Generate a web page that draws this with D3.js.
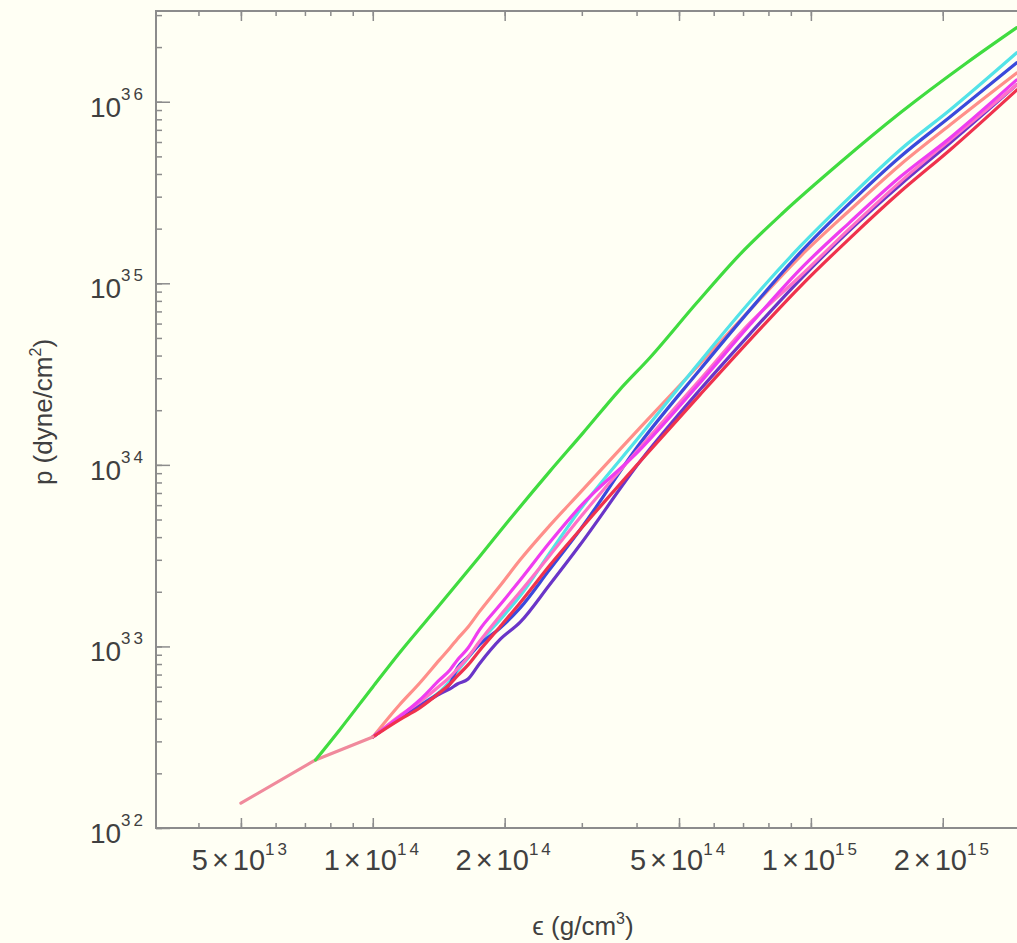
<!DOCTYPE html>
<html>
<head>
<meta charset="utf-8">
<script src="https://cdn.jsdelivr.net/npm/d3@7"></script>
<style>
  html, body { margin: 0; padding: 0; background: #fffff4; }
  svg { display: block; }
  text { font-family: "Liberation Sans", Arial, sans-serif; fill: #404040; }
</style>
</head>
<body>
<svg id="chart"></svg>
<script>
// low density part shared by every curve
const baseEps = [5.0e13, 7.4e13, 1.0e14];
const basePress = [1.37e32, 2.37e32, 3.17e32];

// green curve leaves the shared part early
const greenEps = [7.4e13, 8.4e13, 1.0e14, 1.15e14, 1.42e14, 1.75e14, 2.05e14, 2.53e14, 3.02e14, 3.66e14,
  4.29e14, 5.49e14, 6.88e14, 8.63e14, 1.165e15, 1.6e15, 2.27e15, 2.95e15];
const greenPress = [2.37e32, 3.47e32, 5.98e32, 9.2e32, 1.69e33, 3.11e33, 4.98e33, 9.15e33, 1.50e34, 2.59e34,
  3.89e34, 7.81e34, 1.44e35, 2.44e35, 4.61e35, 8.69e35, 1.64e36, 2.56e36];

// the bundle, all on one density grid
const epsGrid = [1.0e14, 1.15e14, 1.28e14, 1.42e14, 1.5e14, 1.56e14, 1.65e14, 1.75e14, 1.95e14, 2.17e14,
  2.53e14, 2.97e14, 4.07e14, 5.58e14, 7.26e14, 9.44e14, 1.23e15, 1.6e15, 2.08e15, 2.95e15];
const salmonPress = [3.17e32, 4.76e32, 6.29e32, 8.43e32, 9.8e32, 1.10e33, 1.28e33, 1.55e33, 2.15e33, 3.0e33,
  4.61e33, 7.01e33, 1.60e34, 3.6e34, 7.14e34, 1.40e35, 2.54e35, 4.50e35, 7.47e35, 1.44e36];
const cyanPress = [3.17e32, 4.04e32, 4.76e32, 5.61e32, 6.45e32, 7.33e32, 8.64e32, 1.045e33, 1.40e33, 1.90e33,
  3.25e33, 5.65e33, 1.44e34, 3.70e34, 7.91e34, 1.59e35, 3.0e35, 5.44e35, 9.03e35, 1.86e36];
const bluePress = [3.17e32, 4.04e32, 4.70e32, 5.55e32, 6.21e32, 7.62e32, 8.75e32, 1.02e33, 1.26e33, 1.63e33,
  2.64e33, 4.38e33, 1.31e34, 3.34e34, 7.14e34, 1.47e35, 2.78e35, 4.98e35, 8.26e35, 1.64e36];
const purplePress = [3.17e32, 4.04e32, 4.70e32, 5.47e32, 5.83e32, 6.21e32, 6.62e32, 8.01e32, 1.09e33, 1.36e33,
  2.18e33, 3.62e33, 1.04e34, 2.59e34, 5.27e34, 1.045e35, 1.97e35, 3.49e35, 5.94e35, 1.24e36];
const pinkPress = [3.17e32, 4.14e32, 4.94e32, 6.05e32, 6.79e32, 7.52e32, 8.75e32, 1.06e33, 1.47e33, 2.0e33,
  3.15e33, 5.11e33, 1.24e34, 2.94e34, 6.05e34, 1.09e35, 2.02e35, 3.62e35, 6.18e35, 1.24e36];
const magentaPress = [3.17e32, 4.09e32, 5.07e32, 6.54e32, 7.42e32, 8.43e32, 9.8e32, 1.23e33, 1.69e33, 2.32e33,
  3.72e33, 5.87e33, 1.21e34, 2.83e34, 5.91e34, 1.19e35, 2.18e35, 3.86e35, 6.34e35, 1.32e36];
const redPress = [3.17e32, 3.94e32, 4.58e32, 5.55e32, 6.21e32, 6.88e32, 7.91e32, 9.45e32, 1.28e33, 1.74e33,
  2.78e33, 4.38e33, 1.04e34, 2.43e34, 4.88e34, 9.57e34, 1.78e35, 3.19e35, 5.44e35, 1.16e36];

// ticks
const xTicks = [5e13, 1e14, 2e14, 5e14, 1e15, 2e15];
const yTicks = [1e32, 1e33, 1e34, 1e35, 1e36];

const width = 1017;
const height = 943;
// the frame runs a little past the right edge of the picture
const plot = { left: 156, right: 1031, top: 11, bottom: 828 };

const svg = d3.select('#chart')
  .attr('width', width)
  .attr('height', height);

svg.append('rect')
  .attr('width', width)
  .attr('height', height)
  .attr('fill', '#fffff4');

const x = d3.scaleLog()
  .domain([3.2e13, 3.18e15])
  .range([plot.left, plot.right]);

const y = d3.scaleLog()
  .domain([1e32, 3.16e36])
  .range([plot.bottom, plot.top]);

// soft edges like the original
const defs = svg.append('defs');
defs.append('filter').attr('id', 'soft')
  .append('feGaussianBlur').attr('stdDeviation', 0.6);

// inward ticks: minor then major, on all four sides
const minorX = x.ticks();
const minorY = y.ticks();
function tickAxis(axis, transform, size, values) {
  const g = svg.append('g')
    .attr('transform', transform)
    .call(axis.tickValues(values).tickSize(size).tickFormat(''));
  g.select('.domain').remove();
  g.selectAll('line').attr('stroke', '#8c8c8c').attr('stroke-width', 1.5);
}
tickAxis(d3.axisBottom(x), `translate(0,${plot.bottom})`, -5, minorX);
tickAxis(d3.axisBottom(x), `translate(0,${plot.bottom})`, -10, xTicks);
tickAxis(d3.axisTop(x), `translate(0,${plot.top})`, -5, minorX);
tickAxis(d3.axisTop(x), `translate(0,${plot.top})`, -10, xTicks);
tickAxis(d3.axisLeft(y), `translate(${plot.left},0)`, -6, minorY);
tickAxis(d3.axisLeft(y), `translate(${plot.left},0)`, -14, yTicks);
tickAxis(d3.axisRight(y), `translate(${plot.right},0)`, -6, minorY);
tickAxis(d3.axisRight(y), `translate(${plot.right},0)`, -14, yTicks);

// frame
svg.append('rect')
  .attr('x', plot.left)
  .attr('y', plot.top)
  .attr('width', plot.right - plot.left)
  .attr('height', plot.bottom - plot.top)
  .attr('fill', 'none')
  .attr('stroke', '#8c8c8c')
  .attr('stroke-width', 2);

// curves
const series = [
  { color: '#ff8f8a', eps: epsGrid, press: salmonPress },
  { color: '#52e3e8', eps: epsGrid, press: cyanPress },
  { color: '#3a48dc', eps: epsGrid, press: bluePress },
  { color: '#6a36c8', eps: epsGrid, press: purplePress },
  { color: '#ff70c8', eps: epsGrid, press: pinkPress },
  { color: '#ef3df0', eps: epsGrid, press: magentaPress },
  { color: '#f0324e', eps: epsGrid, press: redPress },
  { color: '#f08a9c', eps: baseEps, press: basePress, straight: true },
  { color: '#3fdc3f', eps: greenEps, press: greenPress }
];

const smoothLine = d3.line()
  .curve(d3.curveMonotoneX)
  .x(d => x(d[0]))
  .y(d => y(d[1]));
const straightLine = d3.line()
  .x(d => x(d[0]))
  .y(d => y(d[1]));

svg.append('g')
  .attr('filter', 'url(#soft)')
  .selectAll('path')
  .data(series)
  .enter()
  .append('path')
  .attr('d', s => (s.straight ? straightLine : smoothLine)(s.eps.map((e, i) => [e, s.press[i]])))
  .attr('fill', 'none')
  .attr('stroke', s => s.color)
  .attr('stroke-width', 3.2)
  .attr('stroke-linejoin', 'round')
  .attr('stroke-linecap', 'round');

// y tick labels 10^n
const yLab = svg.append('g').selectAll('text')
  .data(yTicks)
  .enter()
  .append('text')
  .attr('x', 146)
  .attr('y', d => y(d) + 15)
  .attr('text-anchor', 'end')
  .attr('font-size', 28);
yLab.append('tspan').text('10');
yLab.append('tspan')
  .attr('dy', -17)
  .attr('font-size', 17)
  .attr('letter-spacing', 3)
  .text(d => Math.round(Math.log10(d)));

// x tick labels m×10^n
const xLab = svg.append('g').selectAll('text')
  .data(xTicks)
  .enter()
  .append('text')
  .attr('x', d => x(d))
  .attr('y', 870)
  .attr('text-anchor', 'middle')
  .attr('font-size', 29);
xLab.append('tspan').text(d => Math.round(d / Math.pow(10, Math.floor(Math.log10(d)))));
xLab.append('tspan').attr('dx', 4).text('×');
xLab.append('tspan').attr('dx', 4).text('10');
xLab.append('tspan')
  .attr('dy', -15)
  .attr('font-size', 17)
  .attr('letter-spacing', 3)
  .text(d => Math.floor(Math.log10(d)));

// axis titles
const xt = svg.append('text')
  .attr('x', 583)
  .attr('y', 935)
  .attr('text-anchor', 'middle')
  .attr('font-size', 26);
xt.append('tspan').text('ϵ (g/cm');
xt.append('tspan').attr('dy', -11).attr('font-size', 16).text('3');
xt.append('tspan').attr('dy', 11).text(')');

const yt = svg.append('text')
  .attr('transform', 'translate(52,412) rotate(-90)')
  .attr('text-anchor', 'middle')
  .attr('font-size', 26);
yt.append('tspan').text('p (dyne/cm');
yt.append('tspan').attr('dy', -11).attr('font-size', 16).text('2');
yt.append('tspan').attr('dy', 11).text(')');
</script>
</body>
</html>
